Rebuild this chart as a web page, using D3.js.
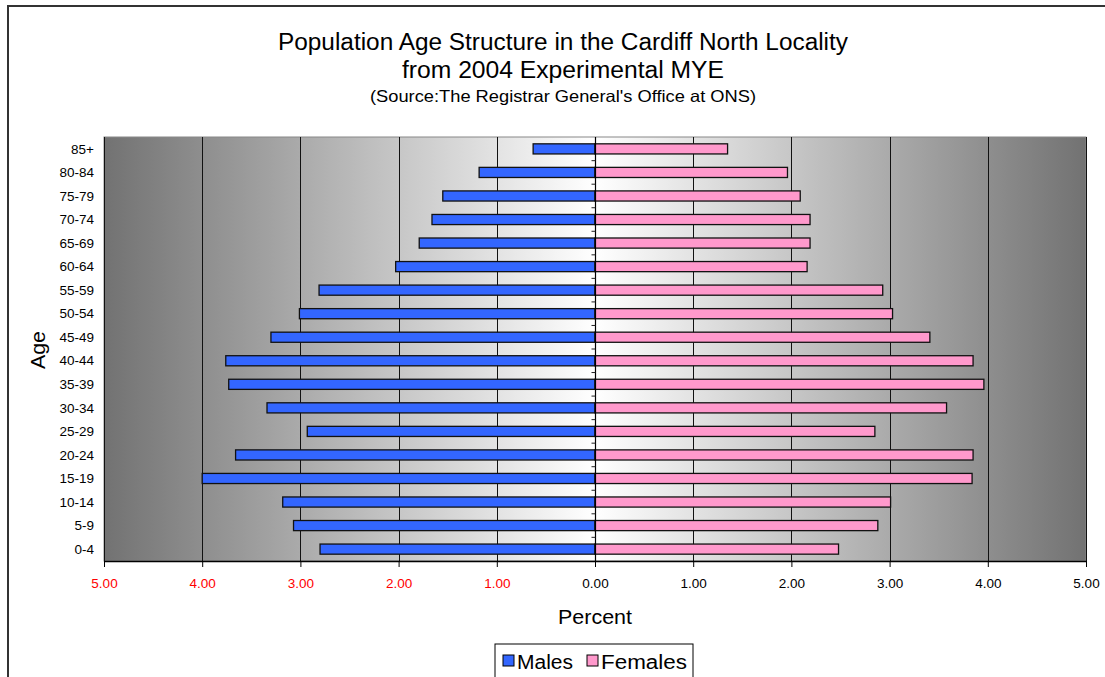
<!DOCTYPE html>
<html>
<head>
<meta charset="utf-8">
<script src="https://cdn.jsdelivr.net/npm/d3@7"></script>
<style>
  body { margin: 0; background: #fff; }
  text { font-family: "Liberation Sans", Arial, sans-serif; }
</style>
</head>
<body>
<svg id="pyramid" width="1105" height="677"></svg>
<script>
// age bands, top to bottom
const ageGroups = ["85+", "80-84", "75-79", "70-74", "65-69", "60-64", "55-59", "50-54",
    "45-49", "40-44", "35-39", "30-34", "25-29", "20-24", "15-19", "10-14", "5-9", "0-4"];

// percent of population
const males = [0.63, 1.18, 1.55, 1.66, 1.79, 2.03, 2.81, 3.01,
    3.30, 3.76, 3.73, 3.34, 2.93, 3.66, 4.00, 3.18, 3.07, 2.80];
const females = [1.35, 1.96, 2.09, 2.19, 2.19, 2.16, 2.93, 3.03,
    3.41, 3.85, 3.96, 3.58, 2.85, 3.85, 3.84, 3.01, 2.88, 2.48];

const xTicks = [-5, -4, -3, -2, -1, 0, 1, 2, 3, 4, 5];

// plot area
const plot = { left: 104, right: 1086, top: 137, bottom: 561 };

const svg = d3.select("#pyramid");

// outer chart border
svg.append("rect")
    .attr("x", 8).attr("y", 6)
    .attr("width", 1120).attr("height", 700)
    .attr("fill", "#fff")
    .attr("stroke", "#333")
    .attr("stroke-width", 2);

// titles (widths matched to the original)
const titles = [
    { t: "Population Age Structure in the Cardiff North Locality", y: 50, s: 23, w: 570 },
    { t: "from 2004 Experimental MYE", y: 78, s: 23, w: 322 },
    { t: "(Source:The Registrar General's Office at ONS)", y: 102, s: 16.5, w: 386 }
];
svg.selectAll(".title")
    .data(titles)
    .join("text")
    .attr("class", "title")
    .attr("x", 563)
    .attr("y", d => d.y)
    .attr("text-anchor", "middle")
    .attr("textLength", d => d.w)
    .attr("lengthAdjust", "spacingAndGlyphs")
    .style("font-size", d => d.s + "px")
    .text(d => d.t);

// scales
const x = d3.scaleLinear()
    .domain([-5, 5])
    .range([plot.left, plot.right]);

const y = d3.scaleBand()
    .domain(ageGroups)
    .range([plot.top, plot.bottom])
    .paddingInner(0.57)
    .paddingOuter(0.29);

// background gradient, dark at the sides, white in the middle
const grad = svg.append("defs").append("linearGradient")
    .attr("id", "bg")
    .attr("x1", "0%").attr("x2", "100%")
    .attr("y1", "0%").attr("y2", "0%");
grad.append("stop").attr("offset", "0%").attr("stop-color", "#727272");
grad.append("stop").attr("offset", "50%").attr("stop-color", "#ffffff");
grad.append("stop").attr("offset", "100%").attr("stop-color", "#727272");

svg.append("rect")
    .attr("x", plot.left).attr("y", plot.top)
    .attr("width", plot.right - plot.left)
    .attr("height", plot.bottom - plot.top)
    .attr("fill", "url(#bg)")
    .attr("stroke", "#888")
    .attr("stroke-width", 1);

// vertical gridlines
svg.selectAll(".grid")
    .data(xTicks)
    .join("line")
    .attr("class", "grid")
    .attr("x1", d => Math.round(x(d)) + 0.5)
    .attr("x2", d => Math.round(x(d)) + 0.5)
    .attr("y1", plot.top)
    .attr("y2", plot.bottom)
    .attr("stroke", "#111")
    .attr("stroke-width", 1);

// x axis
const xAxis = svg.append("g")
    .attr("transform", `translate(0,${plot.bottom})`)
    .call(d3.axisBottom(x)
        .tickValues(xTicks)
        .tickSize(6)
        .tickSizeOuter(0)
        .tickFormat(d => Math.abs(d).toFixed(2)));
xAxis.select(".domain").attr("stroke", "#000").attr("stroke-width", 1.5);
xAxis.selectAll(".tick text")
    .attr("dy", "1.35em")
    .style("font-size", "13.5px")
    .style("font-family", "'Liberation Sans', Arial, sans-serif")
    .attr("fill", d => d < 0 ? "#ff0000" : "#000");

// y labels on the left
svg.selectAll(".ylab")
    .data(ageGroups)
    .join("text")
    .attr("class", "ylab")
    .attr("x", 94)
    .attr("y", d => y(d) + y.bandwidth() / 2)
    .attr("dy", "0.35em")
    .attr("text-anchor", "end")
    .style("font-size", "13.5px")
    .text(d => d);

// bars
const barData = ageGroups.map((a, i) => ({ age: a, m: males[i], f: females[i] }));

svg.selectAll(".male")
    .data(barData)
    .join("rect")
    .attr("class", "male")
    .attr("x", d => x(-d.m))
    .attr("y", d => y(d.age))
    .attr("width", d => x(0) - x(-d.m))
    .attr("height", y.bandwidth())
    .attr("fill", "#3366ff")
    .attr("stroke", "#111")
    .attr("stroke-width", 1.3);

svg.selectAll(".female")
    .data(barData)
    .join("rect")
    .attr("class", "female")
    .attr("x", x(0))
    .attr("y", d => y(d.age))
    .attr("width", d => x(d.f) - x(0))
    .attr("height", y.bandwidth())
    .attr("fill", "#ff99cc")
    .attr("stroke", "#111")
    .attr("stroke-width", 1.3);

// centre axis with small ticks between the bands
const cx = Math.round(x(0)) + 0.5;
svg.append("line")
    .attr("x1", cx).attr("x2", cx)
    .attr("y1", plot.top).attr("y2", plot.bottom)
    .attr("stroke", "#000")
    .attr("stroke-width", 1.2);

svg.selectAll(".ctick")
    .data(ageGroups.slice(1))
    .join("line")
    .attr("class", "ctick")
    .attr("x1", cx - 4).attr("x2", cx)
    .attr("y1", d => y(d) - y.step() * y.paddingInner() / 2)
    .attr("y2", d => y(d) - y.step() * y.paddingInner() / 2)
    .attr("stroke", "#222");

// axis titles
svg.append("text")
    .attr("x", 595)
    .attr("y", 624)
    .attr("text-anchor", "middle")
    .attr("textLength", 74)
    .attr("lengthAdjust", "spacingAndGlyphs")
    .style("font-size", "20px")
    .text("Percent");

svg.append("text")
    .attr("transform", "rotate(-90)")
    .attr("x", -350)
    .attr("y", 45)
    .attr("text-anchor", "middle")
    .attr("textLength", 38)
    .attr("lengthAdjust", "spacingAndGlyphs")
    .style("font-size", "20px")
    .text("Age");

// legend
const legend = svg.append("g").attr("transform", "translate(495,644)");
legend.append("rect")
    .attr("width", 198).attr("height", 40)
    .attr("fill", "#fff")
    .attr("stroke", "#000");

const items = [
    { name: "Males", color: "#3366ff", x: 8, w: 56 },
    { name: "Females", color: "#ff99cc", x: 92, w: 86 }
];
items.forEach(it => {
    legend.append("rect")
        .attr("x", it.x).attr("y", 11)
        .attr("width", 11).attr("height", 11)
        .attr("fill", it.color)
        .attr("stroke", "#000");
    legend.append("text")
        .attr("x", it.x + 14)
        .attr("y", 25)
        .attr("textLength", it.w)
        .attr("lengthAdjust", "spacingAndGlyphs")
        .style("font-size", "20px")
        .text(it.name);
});
</script>
</body>
</html>
